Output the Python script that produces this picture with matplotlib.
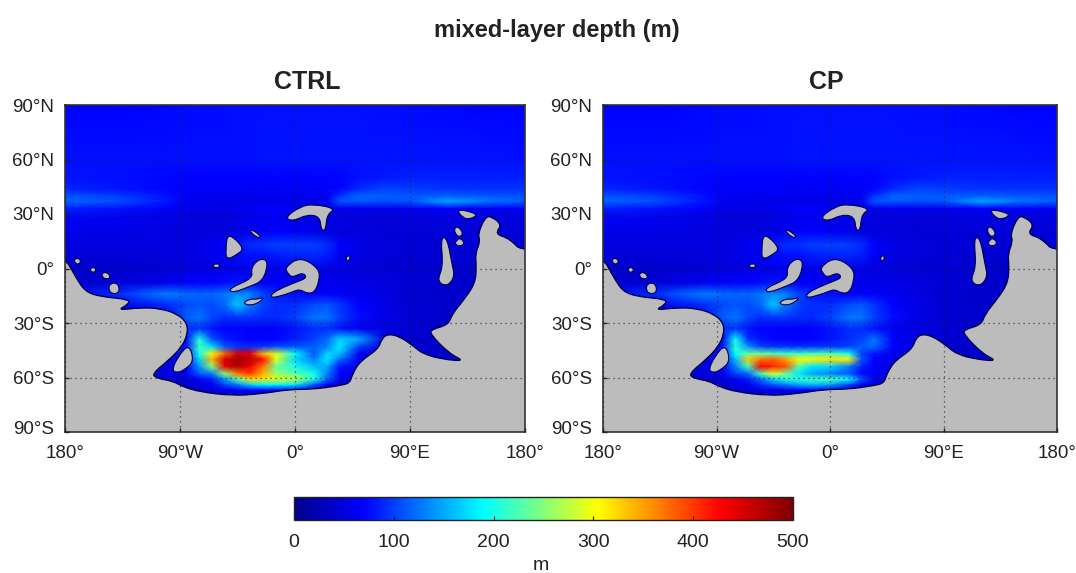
import numpy as np
import matplotlib
matplotlib.use("Agg")
import matplotlib.pyplot as plt
from matplotlib.colors import LinearSegmentedColormap
from matplotlib.patches import PathPatch
from matplotlib.path import Path
from matplotlib.transforms import ScaledTranslation

plt.rcParams['font.family'] = ['Liberation Sans', 'DejaVu Sans']

lon_nodes = [-180,-140,-100,-85,-75,-65,-55,-45,-35,-25,-15,0,15,25,35,50,70,90,120,150,180]
lat_nodes = [90,60,50,44,40,37,33,27,20,13,8,0,-8,-14,-20,-27,-33,-39,-43,-47,-50,-54,-58,-61,-64,-67,-90]

north_rows = [
 [72,72,74,76,76,76,76,78,78,78,78,78,78,78,78,78,76,76,74,72,72],
 [78,78,78,78,78,78,78,78,78,80,80,80,80,80,80,80,80,80,80,80,78],
 [80,78,74,72,72,72,72,72,72,72,72,72,72,72,72,78,82,84,84,84,84],
 [86,80,72,68,68,68,68,68,66,66,66,66,66,68,72,88,100,98,92,92,92],
 [108,98,78,66,64,62,62,62,60,60,60,60,60,62,92,118,115,110,115,110,108],
 [118,108,80,64,60,58,58,58,56,56,56,56,56,60,110,112,108,110,150,125,115],
 [85,80,68,58,56,55,55,60,65,70,70,62,58,58,60,62,62,62,70,65,65],
 [65,62,56,52,50,50,50,55,60,65,65,60,55,52,50,50,48,50,50,50,50],
 [58,56,52,50,48,48,48,52,60,65,70,65,58,52,50,48,46,46,46,46,46],
 [52,52,52,52,55,62,70,82,90,95,98,100,98,90,70,55,50,46,46,46,46],
 [48,48,50,52,56,62,68,75,80,80,85,88,90,85,65,52,48,45,42,42,42],
 [40,42,46,50,52,54,56,58,60,60,58,56,56,56,54,50,46,44,40,40,40],
 [40,45,60,70,72,72,75,80,75,68,65,62,60,60,58,54,50,45,40,40,40],
 [50,90,130,120,118,118,125,135,130,100,85,75,70,68,66,62,52,42,40,40,40],
 [40,60,90,105,110,105,120,165,130,100,90,90,105,110,95,72,55,45,40,40,40],
 [40,40,60,115,125,105,90,95,95,90,88,100,125,125,100,75,55,45,40,40,40],
 [40,40,60,90,95,80,72,72,70,70,70,80,90,90,80,60,50,45,40,40,40],
]
ctrl_south_rows = [
 [40,40,50,75,205,110,85,75,70,70,72,85,100,120,170,150,50,40,40,40,40],
 [40,40,50,80,215,175,110,95,90,95,105,110,115,130,180,100,50,40,40,40,40],
 [40,40,50,85,200,310,380,450,440,340,290,190,110,170,160,60,45,40,40,40,40],
 [40,40,50,80,170,340,455,480,470,420,290,170,130,180,120,60,45,40,40,40,40],
 [40,40,50,70,140,250,440,470,430,370,240,200,160,150,80,55,45,40,40,40,40],
 [40,40,50,60,110,130,250,370,400,340,260,230,200,130,70,50,40,40,40,40,40],
 [40,40,45,50,70,85,140,230,320,320,290,275,200,120,60,45,40,40,40,40,40],
 [40,40,40,40,50,60,100,130,170,190,190,180,110,70,50,40,40,40,40,40,40],
 [30,30,30,30,40,45,55,60,70,70,70,70,50,40,35,30,30,30,30,30,30],
 [30,30,30,30,30,30,30,30,30,30,30,30,30,30,30,30,30,30,30,30,30],
]
cp_south_rows = [
 [40,40,50,75,195,95,80,72,70,70,72,80,90,100,125,70,50,40,40,40,40],
 [40,40,50,80,210,140,100,95,95,90,95,95,100,115,120,70,50,40,40,40,40],
 [40,40,50,85,190,235,240,225,215,215,220,225,200,100,80,60,45,40,40,40,40],
 [40,40,50,80,160,330,370,380,350,310,310,320,310,110,70,55,45,40,40,40,40],
 [40,40,50,70,130,220,430,410,390,230,180,170,130,85,70,50,45,40,40,40,40],
 [40,40,50,60,100,120,220,290,240,180,150,130,110,75,60,50,40,40,40,40,40],
 [40,40,45,50,70,85,120,170,205,210,215,220,190,110,60,45,40,40,40,40,40],
 [40,40,40,40,50,60,90,110,130,150,160,150,100,65,50,40,40,40,40,40,40],
 [30,30,30,30,40,45,50,55,60,65,65,65,50,40,35,30,30,30,30,30,30],
 [30,30,30,30,30,30,30,30,30,30,30,30,30,30,30,30,30,30,30,30,30],
]
ctrl_mld = north_rows + ctrl_south_rows
cp_mld = north_rows + cp_south_rows

ocean_outline = [(-500,500),(500,500),(500,0),(180,7.7),(168,16.5),(156.5,19),(162,24),(154,28.6),(149,28.6),(143,19),(145,15),(141,8),(142,1),(141,-8),(133,-16.5),(123,-25),(120,-31),(107,-33.5),(105.6,-36),(121,-47),(133,-51),(116,-50),(100,-47),(91.5,-42),(82,-37.5),(73,-36),(68,-38.5),(65,-44.5),(51,-51),(45,-58),(43,-63),(35,-64.5),(14,-66.5),(-4,-66.5),(-27,-69),(-48.5,-70),(-74,-68),(-88,-65),(-95.5,-62),(-108,-60.5),(-112,-58),(-98,-50),(-88.5,-43),(-84,-36),(-84.5,-30),(-92,-25),(-105.6,-22),(-121,-21.5),(-139,-23),(-131,-20),(-129,-17),(-152.6,-15.5),(-164,-12.7),(-170.6,-6),(-176,1),(-180,5),(-500,10)]

islands = [
 [(114,17),(119,17),(123,2),(125,-4.5),(119,-10),(111,-7),(116,1)],
 [(126,33),(144,30),(137,27),(131,28)],
 [(124,21.5),(127.5,23.5),(132,19),(127.5,17)],
 [(126,15),(129,17),(133,14),(129,12),(125,13.5)],
 [(-8,28),(4,34),(14,35.5),(32,33),(25,29.7),(24,21),(20.5,21),(19.5,28.6),(9.4,29.7),(-1.6,26)],
 [(-36,21),(-32,21),(-26,17),(-30,17)],
 [(-53,18),(-48.5,17.5),(-40,11),(-44.6,8),(-54,4.5),(-54,12)],
 [(-64,2.5),(-59,2.5),(-59,0.5),(-64,0.5)],
 [(-52,-11),(-33,-5.5),(-34.5,0),(-29,5),(-22,5),(-22,-0.5),(-26,-7),(-35,-9.8),(-49,-13.5)],
 [(-8,0.5),(4,6.5),(19,0),(19,-7),(15,-13.5),(8.6,-13.5),(4,-11.5),(-1,-12.5),(-6,-14),(-19,-16.5),(-18,-13.5),(-8,-10),(2.3,-7.2),(9.5,-5),(6,-2.2),(-2.3,-5),(-5.5,-2.7)],
 [(-41,-19),(-35,-16.7),(-29,-17),(-24,-15.5),(-27.4,-18.5),(-35,-20.5)],
 [(-151,-2.5),(-147,-2),(-144,-5),(-148,-6),(-151,-4.5)],
 [(-146,-9),(-140,-7.5),(-137,-11),(-139,-14),(-145,-13.5)],
 [(-160,0.5),(-156,0.5),(-156,-2),(-160,-2)],
 [(-173,5.5),(-168,5.5),(-168,2.5),(-172,2.5)],
 [(-96.5,-56),(-91.5,-48.5),(-83,-41.5),(-79,-51),(-86,-55.5),(-92,-57.5)],
 [(39.5,5.5),(42,7.5),(43.5,5.5),(41,4)],
]

lon_ticks = [-180,-90,0,90,180]
lon_labels = ['180°','90°W','0°','90°E','180°']
lat_ticks = [90,60,30,0,-30,-60,-90]
lat_labels = ['90°N','60°N','30°N','0°','30°S','60°S','90°S']
cbar_ticks = [0,100,200,300,400,500]

cmap = LinearSegmentedColormap.from_list('mld', [(0,'#00008c'),(0.14,'#0000ff'),(0.38,'#00ffff'),(0.61,'#ffff00'),(0.855,'#ff0000'),(1,'#7f0000')])
W, H = 1076, 573
fig = plt.figure(figsize=(W/100, H/100), dpi=100, facecolor='white')
LAND = '#bcbcbc'; EDGE = '#00004a'; INK = '#222222'

def smooth_path(points):
    # closed quadratic outline that rounds the corners of the traced coast
    pts = np.array(points, float)
    mids = (pts + np.roll(pts, -1, axis=0)) / 2
    verts = [mids[-1]]; codes = [Path.MOVETO]
    for p, m in zip(pts, mids):
        verts += [p, m]; codes += [Path.CURVE3, Path.CURVE3]
    return Path(verts, codes)

def panel(x0, x1, title, title_x, field):
    ax = fig.add_axes([x0/W, 1-432/H, (x1-x0)/W, 327/H], facecolor=LAND)
    mesh = ax.pcolormesh(lon_nodes, lat_nodes, np.array(field, float), shading='gouraud', cmap=cmap, vmin=0, vmax=500, zorder=1)
    ocean = PathPatch(smooth_path(ocean_outline), facecolor='none', edgecolor=EDGE, lw=1.0, zorder=2)
    ax.add_patch(ocean)
    mesh.set_clip_path(ocean)
    for isl in islands:
        ax.add_patch(PathPatch(smooth_path(isl), facecolor=LAND, edgecolor=EDGE, lw=0.8, zorder=3))
    ax.set_xlim(-180,180); ax.set_ylim(-90,90)
    ax.set_xticks(lon_ticks, lon_labels); ax.set_yticks(lat_ticks, lat_labels)
    ax.tick_params(labelsize=13.5, colors=INK, length=3, width=1.0, direction='in')
    ax.tick_params(axis='x', pad=9)
    ax.tick_params(axis='y', pad=8)
    low = ax.get_yticklabels()[-1]
    low.set_transform(low.get_transform() + ScaledTranslation(0, 4/100, fig.dpi_scale_trans))
    ax.grid(True, color='#222222', ls=(0,(1,3)), lw=0.9, alpha=0.8, zorder=4)
    ax.set_axisbelow(False)
    for s in ax.spines.values():
        s.set_color('#333333'); s.set_linewidth(1.2)
    fig.text(title_x/W, 1-82/H, title, fontsize=18, fontweight='bold', color=INK, ha='center', va='center')
    return mesh

m = panel(65, 525, 'CTRL', 307, ctrl_mld)
panel(603, 1057, 'CP', 826, cp_mld)
fig.text(557/W, 1-30/H, 'mixed-layer depth (m)', fontsize=17, fontweight='bold', color=INK, ha='center', va='center')

cax = fig.add_axes([294/W, 1-520/H, 499/W, 23/H])
cb = fig.colorbar(m, cax=cax, orientation='horizontal', ticks=cbar_ticks)
cb.ax.tick_params(labelsize=14, colors=INK, length=3, width=0.8, direction='in', pad=10)
cb.outline.set_edgecolor('#222222'); cb.outline.set_linewidth(1.0)
fig.text(541/W, 1-566/H, 'm', fontsize=14, color=INK, ha='center', va='center')
fig.savefig('out.png', dpi=100)
